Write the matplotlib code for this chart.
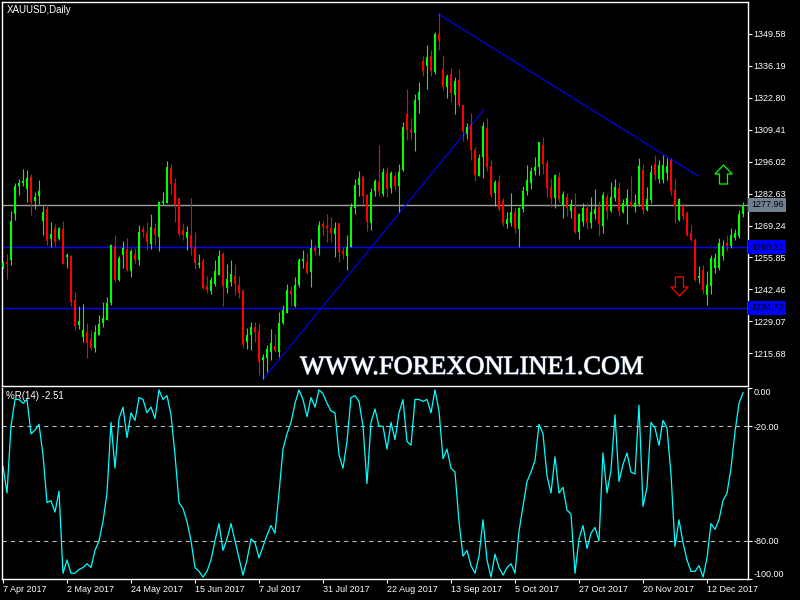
import numpy as np
import matplotlib
matplotlib.use("Agg")
import matplotlib.pyplot as plt
import matplotlib.transforms as mtransforms
import matplotlib.patheffects as pe
from matplotlib.path import Path

plt.rcParams['font.family'] = ['Liberation Sans', 'DejaVu Sans']

# daily XAUUSD candles (7 Apr 2017 .. Dec 2017)
opens = [1251.7, 1254.0, 1254.8, 1274.2, 1285.6, 1287.0, 1284.7, 1289.7, 1279.6, 1281.7,
         1271.2, 1276.3, 1263.6, 1268.3, 1263.6, 1267.8, 1256.1, 1256.5, 1238.0, 1227.5,
         1222.4, 1224.6, 1221.6, 1217.8, 1223.3, 1228.3, 1229.6, 1236.7, 1260.7, 1246.4,
         1256.9, 1259.4, 1250.2, 1257.3, 1254.8, 1267.8, 1266.2, 1261.5, 1268.3, 1264.5,
         1278.8, 1278.8, 1293.5, 1287.2, 1280.9, 1267.4, 1264.1, 1265.3, 1260.3, 1252.7,
         1254.4, 1243.9, 1241.8, 1244.7, 1248.5, 1257.3, 1243.0, 1245.6, 1248.1, 1244.3,
         1241.8, 1220.3, 1223.3, 1226.6, 1224.9, 1212.8, 1213.6, 1216.1, 1218.7, 1216.1,
         1228.3, 1232.5, 1241.8, 1235.5, 1244.3, 1254.4, 1254.0, 1249.8, 1259.9, 1259.9,
         1270.0, 1269.1, 1268.3, 1265.7, 1270.4, 1258.6, 1256.5, 1260.3, 1276.7, 1286.3,
         1289.7, 1282.1, 1270.4, 1283.8, 1287.6, 1282.6, 1291.4, 1284.8, 1290.2, 1286.0,
         1292.3, 1315.9, 1309.1, 1307.9, 1321.7, 1338.1, 1336.0, 1340.2, 1333.5, 1349.5,
         1334.8, 1327.2, 1332.7, 1323.9, 1330.2, 1319.7, 1307.4, 1311.2, 1300.7, 1290.2,
         1297.8, 1310.0, 1294.0, 1282.7, 1287.3, 1279.7, 1269.7, 1270.5, 1274.7, 1267.6,
         1276.0, 1283.9, 1286.9, 1291.9, 1293.6, 1302.9, 1295.3, 1285.2, 1280.6, 1289.4,
         1277.6, 1281.4, 1275.5, 1276.8, 1266.7, 1270.9, 1276.4, 1270.5, 1274.1, 1277.2,
         1269.2, 1281.0, 1275.5, 1280.6, 1284.8, 1274.7, 1277.6, 1278.9, 1277.2, 1278.1,
         1292.3, 1275.9, 1280.1, 1295.2, 1288.9, 1288.5, 1291.3, 1296.9, 1284.3, 1271.7,
         1277.3, 1274.5, 1266.1, 1263.3, 1247.2, 1250.7, 1240.2, 1243.7, 1251.4, 1251.4,
         1256.3, 1261.9, 1260.5, 1264.0, 1264.7, 1274.2]
highs = [1253.8, 1257.3, 1275.4, 1287.0, 1288.9, 1293.1, 1292.6, 1291.0, 1283.4, 1288.4,
         1277.5, 1278.4, 1270.8, 1270.0, 1268.7, 1271.2, 1257.8, 1256.9, 1241.4, 1235.5,
         1236.3, 1228.3, 1225.4, 1227.5, 1231.7, 1237.2, 1239.3, 1261.5, 1265.3, 1256.5,
         1262.8, 1264.0, 1259.4, 1259.9, 1269.5, 1269.1, 1270.8, 1274.1, 1270.4, 1279.6,
         1283.4, 1296.4, 1295.2, 1289.3, 1280.9, 1270.4, 1269.1, 1280.9, 1266.6, 1257.3,
         1255.6, 1248.1, 1247.7, 1254.8, 1259.0, 1258.2, 1253.1, 1254.8, 1253.1, 1248.1,
         1242.6, 1226.2, 1228.7, 1228.7, 1228.3, 1215.3, 1219.1, 1225.8, 1223.7, 1232.9,
         1235.9, 1244.7, 1243.9, 1247.7, 1255.6, 1259.0, 1257.8, 1263.6, 1261.5, 1271.2,
         1271.2, 1274.1, 1272.9, 1270.8, 1270.4, 1260.3, 1265.3, 1278.8, 1288.9, 1292.2,
         1290.5, 1282.6, 1285.1, 1288.9, 1303.0, 1293.5, 1293.9, 1291.9, 1291.5, 1294.9,
         1312.5, 1326.4, 1314.2, 1324.3, 1329.3, 1340.2, 1344.9, 1342.8, 1350.3, 1358.3,
         1340.7, 1332.7, 1335.2, 1331.4, 1334.8, 1319.7, 1312.1, 1316.3, 1302.0, 1299.1,
         1312.5, 1314.2, 1296.5, 1288.5, 1290.4, 1280.6, 1275.1, 1282.7, 1276.4, 1276.8,
         1285.6, 1294.5, 1293.6, 1297.8, 1304.1, 1306.2, 1296.6, 1289.0, 1290.7, 1291.5,
         1283.5, 1282.7, 1280.2, 1282.7, 1274.3, 1278.5, 1278.5, 1281.0, 1284.4, 1279.7,
         1283.1, 1282.3, 1287.3, 1288.6, 1287.3, 1280.2, 1284.4, 1289.8, 1282.3, 1297.4,
         1295.2, 1285.2, 1294.8, 1299.0, 1296.9, 1299.0, 1297.6, 1297.6, 1289.2, 1280.8,
         1278.7, 1275.2, 1269.6, 1264.0, 1252.1, 1252.8, 1250.0, 1257.0, 1257.7, 1264.0,
         1263.3, 1265.4, 1268.2, 1267.8, 1275.9, 1279.0]
lows = [1251.3, 1247.0, 1252.7, 1271.6, 1281.9, 1285.6, 1278.9, 1273.7, 1276.2, 1278.3,
        1265.3, 1261.1, 1260.3, 1260.7, 1263.2, 1253.1, 1251.5, 1235.5, 1225.4, 1225.8,
        1220.3, 1213.6, 1217.0, 1216.1, 1223.3, 1226.6, 1229.6, 1235.9, 1245.5, 1246.0,
        1251.5, 1250.2, 1247.7, 1253.5, 1252.7, 1264.5, 1259.0, 1259.4, 1261.1, 1258.6,
        1277.9, 1278.8, 1282.6, 1270.8, 1264.9, 1263.2, 1259.0, 1256.9, 1251.0, 1251.5,
        1242.6, 1241.0, 1240.5, 1243.9, 1248.5, 1235.5, 1240.9, 1243.9, 1240.1, 1238.8,
        1217.8, 1217.4, 1217.0, 1220.3, 1206.5, 1204.8, 1207.7, 1212.8, 1216.1, 1214.0,
        1227.9, 1232.5, 1235.5, 1235.1, 1243.5, 1251.5, 1248.9, 1243.5, 1256.9, 1256.9,
        1265.3, 1262.4, 1262.4, 1256.1, 1254.0, 1255.2, 1250.6, 1260.3, 1274.2, 1281.7,
        1278.4, 1267.0, 1267.4, 1281.7, 1281.7, 1281.7, 1281.3, 1282.7, 1284.3, 1275.1,
        1291.9, 1304.9, 1304.9, 1300.3, 1316.3, 1331.8, 1326.4, 1331.8, 1332.7, 1342.8,
        1326.0, 1322.6, 1320.9, 1315.9, 1318.8, 1304.5, 1305.4, 1296.5, 1288.1, 1290.2,
        1289.0, 1291.9, 1281.4, 1277.6, 1275.5, 1269.2, 1268.0, 1269.2, 1265.9, 1260.4,
        1275.1, 1281.9, 1284.4, 1290.3, 1290.3, 1290.7, 1281.0, 1276.8, 1276.4, 1279.3,
        1272.6, 1273.4, 1272.6, 1265.9, 1263.4, 1269.2, 1267.6, 1268.4, 1271.8, 1265.0,
        1265.9, 1271.8, 1275.1, 1279.7, 1273.4, 1274.3, 1269.7, 1276.8, 1275.1, 1277.6,
        1274.2, 1275.5, 1278.7, 1288.5, 1287.1, 1287.1, 1288.5, 1282.2, 1270.3, 1271.0,
        1271.7, 1264.7, 1262.6, 1245.8, 1245.1, 1240.6, 1236.0, 1240.6, 1249.3, 1250.7,
        1254.9, 1258.4, 1259.8, 1263.3, 1264.0, 1272.8]
closes = [1253.4, 1253.1, 1271.2, 1285.9, 1286.9, 1288.0, 1289.3, 1278.9, 1281.3, 1283.8,
          1275.0, 1262.8, 1265.7, 1262.4, 1268.3, 1253.1, 1256.9, 1237.2, 1227.1, 1229.2,
          1225.4, 1219.9, 1217.8, 1224.6, 1227.9, 1230.4, 1236.7, 1261.1, 1246.4, 1255.6,
          1259.9, 1250.6, 1258.6, 1254.8, 1266.6, 1266.6, 1262.4, 1268.7, 1265.3, 1279.2,
          1279.6, 1293.9, 1286.8, 1277.9, 1265.7, 1265.3, 1266.6, 1260.3, 1253.5, 1253.5,
          1243.0, 1242.2, 1246.4, 1250.2, 1256.5, 1243.9, 1246.8, 1248.9, 1244.7, 1241.0,
          1219.1, 1223.3, 1226.6, 1224.6, 1211.9, 1214.1, 1217.4, 1219.9, 1216.6, 1228.3,
          1233.8, 1242.2, 1240.5, 1244.3, 1254.8, 1255.2, 1249.3, 1259.9, 1258.6, 1269.5,
          1268.7, 1268.3, 1266.2, 1268.3, 1258.2, 1257.3, 1260.3, 1277.1, 1286.3, 1289.3,
          1281.7, 1270.8, 1283.4, 1288.0, 1283.8, 1291.8, 1284.7, 1291.1, 1286.0, 1291.5,
          1310.4, 1309.1, 1308.3, 1321.7, 1325.1, 1333.9, 1339.8, 1333.9, 1349.5, 1346.5,
          1327.2, 1331.8, 1324.7, 1329.7, 1319.7, 1308.7, 1310.4, 1300.7, 1290.6, 1297.4,
          1310.8, 1293.6, 1282.2, 1287.3, 1276.0, 1270.5, 1271.8, 1275.1, 1268.0, 1276.4,
          1283.9, 1288.2, 1291.9, 1293.6, 1304.1, 1294.9, 1284.8, 1280.6, 1290.3, 1280.2,
          1282.3, 1276.4, 1278.1, 1266.7, 1273.9, 1276.4, 1270.5, 1274.7, 1276.0, 1269.7,
          1281.9, 1275.5, 1281.4, 1285.2, 1275.5, 1278.5, 1280.6, 1277.6, 1278.5, 1294.0,
          1275.9, 1280.5, 1291.8, 1290.6, 1294.8, 1294.8, 1294.1, 1283.6, 1277.3, 1280.4,
          1273.1, 1265.4, 1263.3, 1246.5, 1248.3, 1242.3, 1244.4, 1255.6, 1255.6, 1261.9,
          1260.5, 1260.5, 1265.4, 1266.1, 1274.2, 1277.96]

# Williams %R(14)
wpr = [-41, -55, -20, -6, -6, -8, -6, -24, -22, -19,
       -35, -60, -59, -65, -54, -97, -90, -97, -97, -95,
       -94, -92, -94, -85, -80, -70, -55, -18, -42, -16,
       -10, -26, -13, -17, -5, -6, -13, -10, -16, -1,
       -6, -4, -14, -35, -60, -63, -70, -80, -94, -96,
       -99, -96, -90, -80, -71, -85, -79, -71, -80, -89,
       -98, -90, -79, -81, -89, -83, -77, -72, -76, -55,
       -32, -24, -18, -8, -1, -6, -15, -5, -10, -1,
       -3, -8, -12, -13, -35, -42, -28, -5, -4, -7,
       -20, -50, -18, -11, -20, -20, -32, -18, -27, -13,
       -6, -28, -30, -6, -6, -7, -6, -13, -1, -12,
       -37, -32, -42, -44, -70, -88, -85, -93, -97, -88,
       -69, -90, -99, -87, -94, -98, -94, -92, -97, -75,
       -62, -49, -44, -38, -19, -24, -46, -55, -36, -55,
       -52, -64, -66, -97, -79, -72, -84, -76, -73, -80,
       -34, -55, -43, -14, -49, -40, -34, -44, -45, -9,
       -62, -52, -18, -21, -30, -17, -21, -45, -83, -69,
       -81, -90, -96, -96, -93, -99, -89, -71, -74, -69,
       -59, -55, -42, -23, -8, -2.51]

price_ticks = [1349.58, 1336.19, 1322.80, 1309.41, 1296.02, 1282.63,
               1269.24, 1255.85, 1242.46, 1229.07, 1215.68]
wpr_ticks = [0, -20, -80, -100]
date_idx = [0, 16, 32, 48, 64, 80, 96, 112, 128, 144, 160, 176]
date_labels = ["7 Apr 2017", "2 May 2017", "24 May 2017", "15 Jun 2017",
               "7 Jul 2017", "31 Jul 2017", "22 Aug 2017", "13 Sep 2017",
               "5 Oct 2017", "27 Oct 2017", "20 Nov 2017", "12 Dec 2017"]

last_price = 1277.96
levels = [1260.21, 1234.72]
up_trend_x, up_trend_y = [65, 120.25], [1204.8, 1317.8]
down_trend_x, down_trend_y = [109, 173.75], [1357.7, 1290.0]
arrow_up = (180, 1290.7)
arrow_down = (169, 1243.8)

GREEN = '#00ff00'
RED = '#ff0000'
BLUE = '#0000ff'

o = np.array(opens)
h = np.array(highs)
l = np.array(lows)
c = np.array(closes)
x = np.arange(len(c))

fig = plt.figure(figsize=(8, 6), dpi=100, facecolor='black')
ax = fig.add_axes([2 / 800, 1 - 386 / 600, 746 / 800, 384 / 600])
ax2 = fig.add_axes([2 / 800, 1 - 579 / 600, 746 / 800, 191 / 600])

for a in (ax, ax2):
    a.set_facecolor('black')
    for s in a.spines.values():
        s.set_color('white')
        s.set_linewidth(1.0)
ax2.spines['top'].set_visible(False)

# levels and trendlines behind the candles
ax.axhline(last_price, color='#a0a0a0', lw=1.0, zorder=1)
for lv in levels:
    ax.axhline(lv, color=BLUE, lw=1.0, zorder=1)
ax.plot(up_trend_x, up_trend_y, color=BLUE, lw=0.8, zorder=1)
ax.plot(down_trend_x, down_trend_y, color=BLUE, lw=0.8, zorder=1)

# candles
bull = c >= o
for mask, col in ((bull, GREEN), (~bull, RED)):
    ax.vlines(x[mask], l[mask], h[mask], color=col, lw=0.8, zorder=2)
    body = np.maximum(np.abs(c[mask] - o[mask]), 0.35)
    ax.bar(x[mask], body, bottom=np.minimum(o[mask], c[mask]), width=0.7,
           color=col, linewidth=0, zorder=3)

# arrows (outlined, like the terminal's arrow objects)
verts = [(0, 9.5), (8.5, 0.5), (4, 0.5), (4, -9.5), (-4, -9.5), (-4, 0.5), (-8.5, 0.5), (0, 0)]
codes = [Path.MOVETO] + [Path.LINETO] * 6 + [Path.CLOSEPOLY]
up_marker = Path(verts, codes)
down_marker = Path([(vx, -vy) for vx, vy in verts], codes)
ax.plot([arrow_up[0]], [arrow_up[1]], marker=up_marker, markersize=13.7, ls='none',
        mfc='none', mec=GREEN, mew=0.9, zorder=4)
ax.plot([arrow_down[0]], [arrow_down[1]], marker=down_marker, markersize=13.7, ls='none',
        mfc='none', mec=RED, mew=0.9, zorder=4)

ax.set_xlim(-0.25, 186.25)
ax.set_ylim(1202.0, 1362.9)
ax.set_xticks([])
ax.yaxis.tick_right()
ax.set_yticks(price_ticks)
ax.set_yticklabels([f"{p:.2f}" for p in price_ticks])
ax.tick_params(axis='y', colors='white', length=3, width=0.8, labelsize=6.5, pad=1)

# price tags on the scale
tag_tr = mtransforms.blended_transform_factory(ax.transAxes, ax.transData)
tags = [(last_price, '#708090')] + [(lv, BLUE) for lv in levels]
for val, bg in tags:
    ax.text(1.0 + 3 / 746, val, f"{val:.2f}", transform=tag_tr, ha='left', va='center',
            fontsize=6.5, color='black', zorder=6,
            bbox=dict(boxstyle='square,pad=0.28', fc=bg, ec='none'))

# %R pane
ax2.axhline(-20, color='#c0c0c0', lw=0.75, ls=(0, (4, 4)))
ax2.axhline(-80, color='#c0c0c0', lw=0.75, ls=(0, (4, 4)))
ax2.plot(x, wpr, color='#00ffff', lw=0.9)
ax2.set_xlim(-0.25, 186.25)
ax2.set_ylim(-100, 0)
ax2.yaxis.tick_right()
ax2.set_yticks(wpr_ticks)
ax2.set_yticklabels([f"{t:.2f}" for t in wpr_ticks])
ax2.tick_params(axis='y', colors='white', length=3, width=0.8, labelsize=6.5, pad=1)
ylbls = ax2.get_yticklabels()
ylbls[0].set_verticalalignment('top')
ylbls[-1].set_verticalalignment('bottom')
ax2.set_xticks(date_idx)
ax2.set_xticklabels(date_labels, ha='left')
ax2.tick_params(axis='x', colors='white', length=3, width=0.8, labelsize=6.5, pad=1.5)

fig.text(7 / 800, 1 - 10 / 600, "XAUUSD,Daily", color='white', fontsize=7, va='center')
fig.text(6 / 800, 1 - 396 / 600, "%R(14) -2.51", color='white', fontsize=7, va='center')
fig.text(472 / 800, 1 - 368 / 600, "WWW.FOREXONLINE1.COM", color='white',
         fontsize=19, family='Liberation Serif', ha='center', va='center', zorder=10,
         path_effects=[pe.withStroke(linewidth=1.0, foreground='#6a7a9a'), pe.Normal()])

fig.savefig('out.png', dpi=100, facecolor='black')
